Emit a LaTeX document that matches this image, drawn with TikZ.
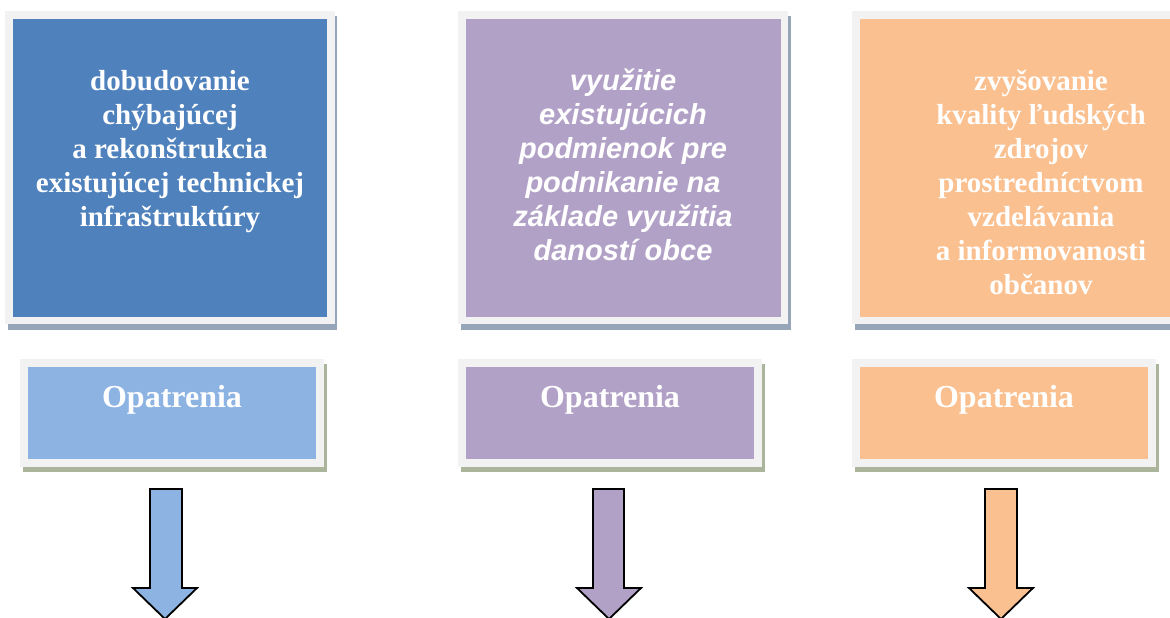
\documentclass[tikz,border=0pt]{standalone}
\usepackage{fontspec}
\setmainfont{Liberation Serif}
\newfontfamily\arialfont{Liberation Sans}
\definecolor{dblue}{HTML}{4F81BD}
\definecolor{lblue}{HTML}{8DB3E2}
\definecolor{lpurple}{HTML}{B2A1C7}
\definecolor{lorange}{HTML}{FAC090}
\definecolor{framegray}{HTML}{F2F2F2}
\definecolor{shadowtop}{HTML}{97A5B9}
\definecolor{shadowbot}{HTML}{AAB59C}
\tikzset{
  shadowT/.style={fill=shadowtop},
  shadowB/.style={fill=shadowbot},
  framebox/.style={fill=framegray},
  bigtext/.style={text=white, align=center, inner sep=0pt, anchor=north,
     font=\fontsize{29}{34}\selectfont\bfseries},
  smalltext/.style={text=white, inner sep=0pt, anchor=base,
     font=\fontsize{32}{38}\selectfont\bfseries},
  blockarrow/.style={draw=black, line width=1.8pt, line join=miter},
}
\begin{document}
\begin{tikzpicture}[x=1pt,y=-1pt]
\useasboundingbox (0,0) rectangle (1170,618);
\clip (0,0) rectangle (1170,618);
% ---------- top boxes ----------
\fill[shadowT] (8,16) rectangle (337,330);
\fill[framebox] (5,11) rectangle (335,324);
\fill[dblue] (13,19) rectangle (327,317);
\node[bigtext] (t1) at (170,70) {dobudovanie\\chýbajúcej\\a rekonštrukcia\\existujúcej technickej\\infraštruktúry};

\fill[shadowT] (461,16) rectangle (791,330);
\fill[framebox] (458,11) rectangle (788,324);
\fill[lpurple] (466,19) rectangle (781,317);
\node[bigtext, font=\fontsize{29}{34}\selectfont\arialfont\bfseries\itshape] (t2) at (623,69) {využitie\\existujúcich\\podmienok pre\\podnikanie na\\základe využitia\\daností obce};

\fill[shadowT] (855,16) rectangle (1185,330);
\fill[framebox] (852,11) rectangle (1182,324);
\fill[lorange] (860,19) rectangle (1174,317);
\node[bigtext] (t3) at (1041,70) {zvyšovanie\\kvality ľudských\\zdrojov\\prostredníctvom\\vzdelávania\\a informovanosti\\občanov};

% ---------- Opatrenia boxes ----------
\fill[shadowB] (23,364) rectangle (327,472);
\fill[framebox] (20,359) rectangle (324,467);
\fill[lblue] (28,367) rectangle (316,459);
\node[smalltext] (o1) at (172,407) {Opatrenia};

\fill[shadowB] (461,364) rectangle (765,472);
\fill[framebox] (458,359) rectangle (762,467);
\fill[lpurple] (466,367) rectangle (754,459);
\node[smalltext] (o2) at (610,407) {Opatrenia};

\fill[shadowB] (855,364) rectangle (1159,472);
\fill[framebox] (852,359) rectangle (1156,467);
\fill[lorange] (860,367) rectangle (1148,459);
\node[smalltext] (o3) at (1004,407) {Opatrenia};

% ---------- block arrows ----------
\draw[blockarrow, fill=lblue] (150,489) -- (182,489) -- (182,588) -- (197,588) -- (165,619) -- (133,588) -- (150,588) -- cycle;
\draw[blockarrow, fill=lpurple] (593,489) -- (624,489) -- (624,588) -- (641,588) -- (609,619) -- (577,588) -- (593,588) -- cycle;
\draw[blockarrow, fill=lorange] (985,489) -- (1017,489) -- (1017,588) -- (1033,588) -- (1001,619) -- (969,588) -- (985,588) -- cycle;
\end{tikzpicture}
\end{document}
